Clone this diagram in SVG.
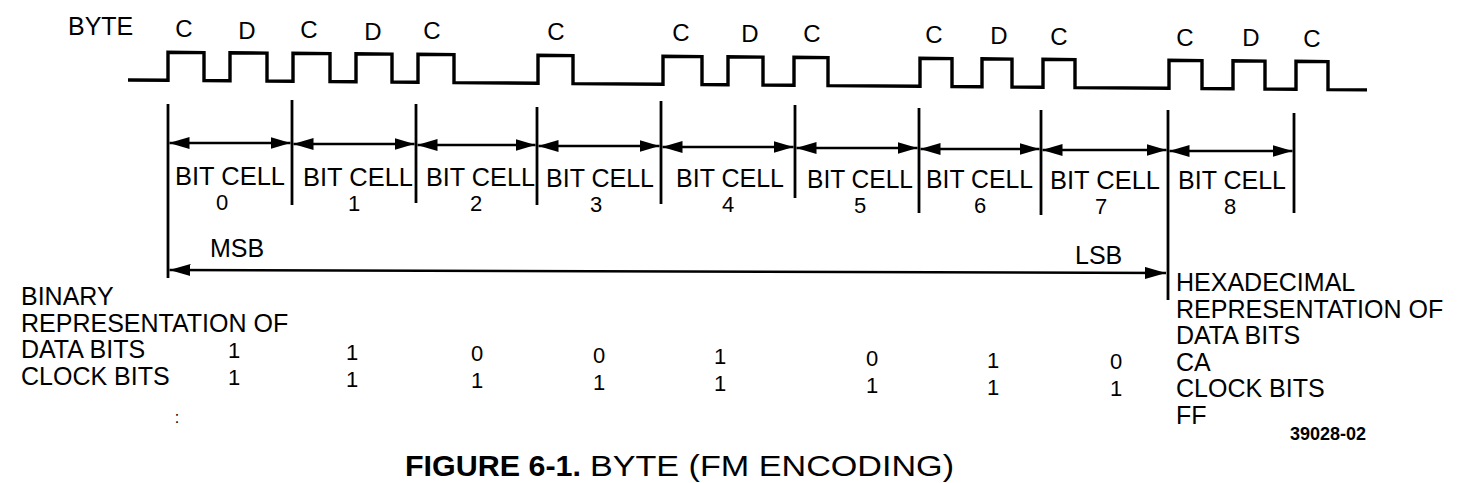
<svg xmlns="http://www.w3.org/2000/svg" width="1480" height="483" viewBox="0 0 1480 483">
<style>
text{font-family:"Liberation Sans",Arial,sans-serif;fill:#000}
.lbl{font-size:24px;text-anchor:middle}
.cell{font-size:26px}
.num{font-size:22px;text-anchor:middle}
.row{font-size:25px}
.bit{font-size:22px;text-anchor:middle}
.sep{stroke:#000;stroke-width:2.8;fill:none}
.dim{stroke:#000;stroke-width:2.4;fill:none;marker-start:url(#ah);marker-end:url(#ah)}
</style>
<defs>
<marker id="ah" markerUnits="userSpaceOnUse" markerWidth="20" markerHeight="12" refX="20" refY="6" orient="auto-start-reverse" viewBox="0 0 20 12">
<path d="M0,0 L20,6 L0,12 Z" fill="#000"/>
</marker>
<marker id="ahl" markerUnits="userSpaceOnUse" markerWidth="21" markerHeight="12" refX="21" refY="6" orient="auto-start-reverse" viewBox="0 0 21 12">
<path d="M0,0 L21,6 L0,12 Z" fill="#000"/>
</marker>
</defs>
<rect width="1480" height="483" fill="#fff"/>

<g id="waveform">
<text x="68" y="35" class="row">BYTE</text>
<path d="M128,80 L168,80.3 L168,52.3 L204,52.6 L204,80.6 L230,80.8 L230,52.8 L267,53.1 L267,81.1 L293,81.3 L293,53.3 L330,53.6 L330,81.6 L356,81.8 L356,53.8 L392,54.1 L392,82.1 L418,82.3 L418,54.3 L454,54.6 L454,82.6 L538,83.3 L538,55.3 L573,55.6 L573,83.6 L663,84.3 L663,56.3 L702,56.6 L702,84.6 L728,84.8 L728,56.8 L763,57.1 L763,85.1 L794,85.3 L794,57.3 L828,57.6 L828,85.6 L920,86.3 L920,58.3 L952,58.6 L952,86.6 L982,86.8 L982,58.8 L1012,59.1 L1012,87.1 L1043,87.3 L1043,59.3 L1075,59.6 L1075,87.6 L1169,88.3 L1169,60.3 L1202,60.6 L1202,88.6 L1233,88.8 L1233,60.8 L1265,61.1 L1265,89.1 L1296,89.3 L1296,61.3 L1328,61.6 L1328,89.6 L1367,89.9" fill="none" stroke="#000" stroke-width="3.4" stroke-linejoin="miter"/>
<text class="lbl" x="184" y="37">C</text>
<text class="lbl" x="247" y="39">D</text>
<text class="lbl" x="309" y="38">C</text>
<text class="lbl" x="373" y="40">D</text>
<text class="lbl" x="432" y="39">C</text>
<text class="lbl" x="556" y="40">C</text>
<text class="lbl" x="681" y="41">C</text>
<text class="lbl" x="750" y="42">D</text>
<text class="lbl" x="812" y="42">C</text>
<text class="lbl" x="934" y="43">C</text>
<text class="lbl" x="999" y="44">D</text>
<text class="lbl" x="1059" y="45">C</text>
<text class="lbl" x="1185" y="46">C</text>
<text class="lbl" x="1251" y="46">D</text>
<text class="lbl" x="1312" y="47">C</text>
</g>

<g id="boundaries">
<line class="sep" x1="168" y1="104" x2="168" y2="278"/>
<line class="sep" x1="292" y1="100" x2="292" y2="205"/>
<line class="sep" x1="416" y1="104" x2="416" y2="203"/>
<line class="sep" x1="537" y1="107" x2="537" y2="205"/>
<line class="sep" x1="661" y1="101" x2="661" y2="204"/>
<line class="sep" x1="795" y1="105" x2="795" y2="198"/>
<line class="sep" x1="919" y1="108" x2="919" y2="213"/>
<line class="sep" x1="1041" y1="110" x2="1041" y2="215"/>
<line class="sep" x1="1168" y1="110" x2="1168" y2="300"/>
<line class="sep" x1="1294" y1="113" x2="1294" y2="213"/>
</g>

<g id="connectors">
<line class="dim" x1="169.5" y1="143" x2="290.5" y2="143"/>
<line class="dim" x1="293.5" y1="144" x2="414.5" y2="144"/>
<line class="dim" x1="417.5" y1="145" x2="535.5" y2="145"/>
<line class="dim" x1="538.5" y1="146" x2="659.5" y2="146"/>
<line class="dim" x1="662.5" y1="147" x2="793.5" y2="147"/>
<line class="dim" x1="796.5" y1="148" x2="917.5" y2="148"/>
<line class="dim" x1="920.5" y1="149" x2="1039.5" y2="149"/>
<line class="dim" x1="1042.5" y1="150" x2="1166.5" y2="150"/>
<line class="dim" x1="1169.5" y1="151" x2="1292.5" y2="151"/>
<line x1="169.5" y1="270" x2="1166" y2="273" stroke="#000" stroke-width="2.4" marker-start="url(#ahl)" marker-end="url(#ahl)"/>
</g>

<g id="cell0"><text class="cell" x="175" y="185" textLength="110" lengthAdjust="spacingAndGlyphs">BIT CELL</text><text class="num" x="222" y="210">0</text></g>
<g id="cell1"><text class="cell" x="303" y="185.5" textLength="110" lengthAdjust="spacingAndGlyphs">BIT CELL</text><text class="num" x="354" y="210.5">1</text></g>
<g id="cell2"><text class="cell" x="426" y="186" textLength="109" lengthAdjust="spacingAndGlyphs">BIT CELL</text><text class="num" x="476" y="211">2</text></g>
<g id="cell3"><text class="cell" x="546" y="186.5" textLength="108" lengthAdjust="spacingAndGlyphs">BIT CELL</text><text class="num" x="596" y="211.5">3</text></g>
<g id="cell4"><text class="cell" x="676" y="187" textLength="108" lengthAdjust="spacingAndGlyphs">BIT CELL</text><text class="num" x="728" y="212">4</text></g>
<g id="cell5"><text class="cell" x="807" y="187.5" textLength="106" lengthAdjust="spacingAndGlyphs">BIT CELL</text><text class="num" x="860" y="212.5">5</text></g>
<g id="cell6"><text class="cell" x="926" y="188" textLength="107" lengthAdjust="spacingAndGlyphs">BIT CELL</text><text class="num" x="980" y="213">6</text></g>
<g id="cell7"><text class="cell" x="1050" y="188.5" textLength="110" lengthAdjust="spacingAndGlyphs">BIT CELL</text><text class="num" x="1101" y="213.5">7</text></g>
<g id="cell8"><text class="cell" x="1178" y="189" textLength="108" lengthAdjust="spacingAndGlyphs">BIT CELL</text><text class="num" x="1230" y="214">8</text></g>

<g id="msb-lsb">
<text class="row" x="210" y="257">MSB</text>
<text class="row" x="1075" y="264">LSB</text>
</g>

<g id="binary-label">
<text class="row" x="21" y="305">BINARY</text>
<text class="row" x="21" y="332">REPRESENTATION OF</text>
<text class="row" x="21" y="358">DATA BITS</text>
<text class="row" x="21" y="385">CLOCK BITS</text>
<text x="177" y="423" style="font-size:16px;text-anchor:middle">:</text>
</g>

<g id="data-bits">
<text class="bit" x="234" y="358">1</text>
<text class="bit" x="352" y="359.5">1</text>
<text class="bit" x="477" y="361">0</text>
<text class="bit" x="599" y="362.5">0</text>
<text class="bit" x="720" y="364">1</text>
<text class="bit" x="872" y="366">0</text>
<text class="bit" x="993" y="367.5">1</text>
<text class="bit" x="1116" y="369">0</text>
</g>
<g id="clock-bits">
<text class="bit" x="234" y="385">1</text>
<text class="bit" x="352" y="386.5">1</text>
<text class="bit" x="477" y="388">1</text>
<text class="bit" x="599" y="389.5">1</text>
<text class="bit" x="720" y="391">1</text>
<text class="bit" x="872" y="393">1</text>
<text class="bit" x="993" y="394.5">1</text>
<text class="bit" x="1116" y="396">1</text>
</g>

<g id="hex-label">
<text class="row" x="1176" y="291">HEXADECIMAL</text>
<text class="row" x="1176" y="317.6">REPRESENTATION OF</text>
<text class="row" x="1176" y="344.2">DATA BITS</text>
<text class="row" x="1176" y="370.8">CA</text>
<text class="row" x="1176" y="397.4">CLOCK BITS</text>
<text class="row" x="1176" y="424">FF</text>
</g>

<g id="caption">
<text x="405" y="476" style="font-size:30px;font-weight:bold" textLength="176" lengthAdjust="spacingAndGlyphs">FIGURE 6-1.</text>
<text x="590" y="476" style="font-size:30px" textLength="364" lengthAdjust="spacingAndGlyphs">BYTE (FM ENCODING)</text>
<text x="1290" y="440" style="font-size:18px;font-weight:bold">39028-02</text>
</g>
</svg>
